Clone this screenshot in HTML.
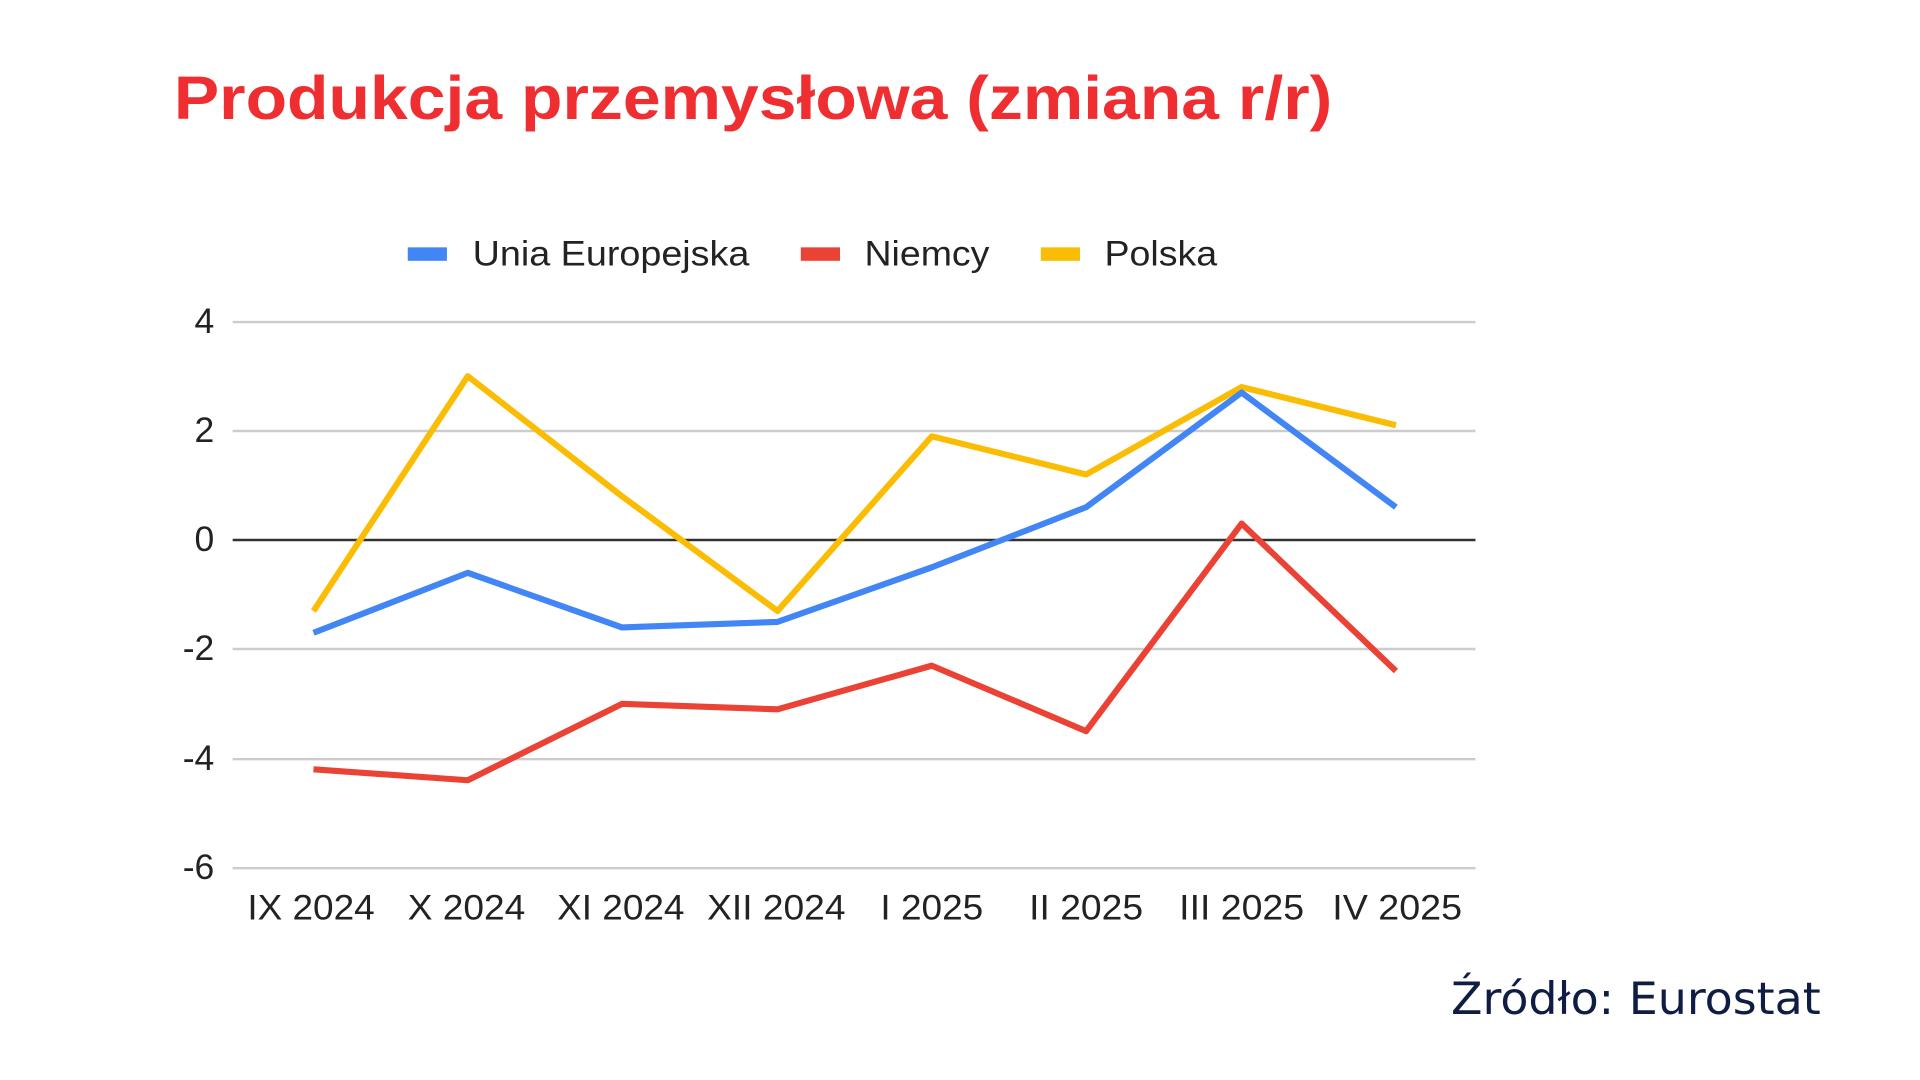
<!DOCTYPE html>
<html><head><meta charset="utf-8"><style>
html,body{margin:0;padding:0;background:#fff;width:1920px;height:1080px;overflow:hidden}
svg{display:block}
</style></head><body>
<svg width="1920" height="1080" viewBox="0 0 1568 882" xmlns="http://www.w3.org/2000/svg">
<rect width="1568" height="882" fill="#fff"/>
<text x="142" y="97" font-family="Liberation Sans, sans-serif" font-weight="bold" font-size="50" fill="#EE2E31" textLength="946" lengthAdjust="spacingAndGlyphs">Produkcja przemysłowa (zmiana r/r)</text>
<g font-family="Liberation Sans, sans-serif" font-size="29" fill="#222">
<rect x="333" y="202" width="32" height="11" fill="#4285F4"/>
<text x="386" y="217" textLength="226" lengthAdjust="spacingAndGlyphs">Unia Europejska</text>
<rect x="654" y="202" width="32" height="11" fill="#EA4335"/>
<text x="706" y="217" textLength="102" lengthAdjust="spacingAndGlyphs">Niemcy</text>
<rect x="850" y="202" width="32" height="11" fill="#FBBC04"/>
<text x="902" y="217" textLength="92" lengthAdjust="spacingAndGlyphs">Polska</text>
</g>
<g stroke="#ccc" stroke-width="2">
<line x1="190" y1="263" x2="1205" y2="263"/>
<line x1="190" y1="352" x2="1205" y2="352"/>
<line x1="190" y1="530" x2="1205" y2="530"/>
<line x1="190" y1="620" x2="1205" y2="620"/>
<line x1="190" y1="709" x2="1205" y2="709"/>
</g>
<line x1="190" y1="441" x2="1205" y2="441" stroke="#333" stroke-width="2"/>
<g font-family="Liberation Sans, sans-serif" font-size="29" fill="#222" text-anchor="end">
<text x="175" y="272">4</text>
<text x="175" y="361">2</text>
<text x="175" y="450">0</text>
<text x="175" y="539">-2</text>
<text x="175" y="629">-4</text>
<text x="175" y="718">-6</text>
</g>
<g font-family="Liberation Sans, sans-serif" font-size="29" fill="#222" text-anchor="middle">
<text x="254" y="751" textLength="104" lengthAdjust="spacingAndGlyphs">IX 2024</text>
<text x="381" y="751" textLength="96" lengthAdjust="spacingAndGlyphs">X 2024</text>
<text x="507" y="751" textLength="104" lengthAdjust="spacingAndGlyphs">XI 2024</text>
<text x="634" y="751" textLength="113" lengthAdjust="spacingAndGlyphs">XII 2024</text>
<text x="761" y="751" textLength="84" lengthAdjust="spacingAndGlyphs">I 2025</text>
<text x="887" y="751" textLength="93" lengthAdjust="spacingAndGlyphs">II 2025</text>
<text x="1014" y="751" textLength="102" lengthAdjust="spacingAndGlyphs">III 2025</text>
<text x="1141" y="751" textLength="106" lengthAdjust="spacingAndGlyphs">IV 2025</text>
</g>
<g fill="none" stroke-width="5" stroke-linejoin="round">
<polyline stroke="#EA4335" points="256,628.3 382,637.2 508,574.8 635,579.3 761,543.6 887,597.1 1014,427.6 1140,548"/>
<polyline stroke="#FBBC04" points="256,499 382,307.2 508,405.3 635,499 761,356.3 887,387.5 1014,316.1 1140,347.3"/>
<polyline stroke="#4285F4" points="256,516.8 382,467.8 508,512.4 635,507.9 761,463.3 887,414.2 1014,320.6 1140,414.2"/>
</g>
<text x="1185" y="828" font-family="DejaVu Sans, Liberation Sans, sans-serif" font-size="36" fill="#0F1C44" textLength="302" lengthAdjust="spacingAndGlyphs">Źródło: Eurostat</text>
</svg>
</body></html>
